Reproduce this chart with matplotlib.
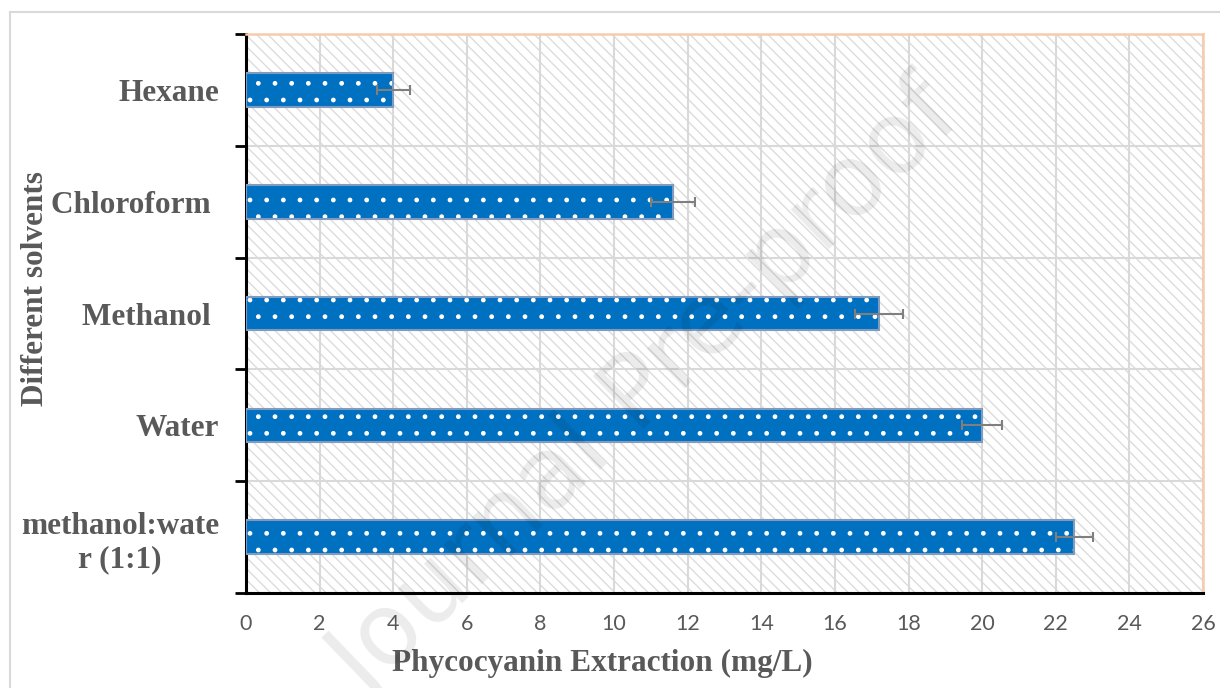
import numpy as np
import matplotlib.pyplot as plt
from matplotlib.patches import Rectangle
from matplotlib.lines import Line2D

solvents = ['Hexane', 'Chloroform ', 'Methanol ', 'Water', 'methanol:wate\nr (1:1)']
extraction = [4.0, 11.6, 17.2, 20.0, 22.5]
errors = [0.45, 0.6, 0.65, 0.55, 0.5]
xticks = np.arange(0, 27, 2)

serif = 'Liberation Serif'
gray = '#595959'

fig = plt.figure(figsize=(12.2, 6.88), dpi=100)
ax = fig.add_axes([0.2016, 0.138, 0.7845, 0.8125])

# figure border (top and left edges visible)
fig.add_artist(Line2D([0.0082, 1.0], [0.9826, 0.9826], color='#d9d9d9', lw=1.5, transform=fig.transFigure))
fig.add_artist(Line2D([0.0082, 0.0082], [0.0, 0.9826], color='#d9d9d9', lw=1.5, transform=fig.transFigure))

# hatched plot area
bg = Rectangle((0, 0), 1, 1, transform=ax.transAxes, facecolor='white',
               edgecolor='#dcdcdc', hatch='\\\\\\', lw=0, zorder=0)
ax.add_patch(bg)
ax.patch.set_visible(False)

y = np.arange(len(solvents))
ax.barh(y, extraction, height=0.3, color='#0070C0', edgecolor='white', hatch='.', lw=0, zorder=3)
ax.barh(y, extraction, height=0.3, color='none', edgecolor='#7f9cc0', lw=1.5, zorder=4)
ax.errorbar(extraction, y, xerr=errors, fmt='none', ecolor='#7f7f7f', elinewidth=1.5,
            capsize=3.6, capthick=1.5, zorder=5)

ax.set_xlim(0, 26)
ax.set_ylim(len(solvents) - 0.5, -0.5)
ax.set_xticks(xticks)
ax.set_xticklabels([str(v) for v in xticks], fontfamily='Lato', fontsize=15.5, color=gray)
ax.tick_params(axis='x', length=0, pad=15)

ax.set_yticks(np.arange(-0.5, len(solvents), 1))
ax.set_yticklabels([])
ax.set_yticks(y, minor=True)
ax.set_yticklabels(solvents, minor=True, fontfamily=serif, fontweight='bold', fontsize=22.5,
                   color=gray, multialignment='center')
ax.tick_params(axis='y', which='major', length=8, width=2, color='black')
ax.tick_params(axis='y', which='minor', length=0, pad=19.5)

ax.grid(True, which='major', color='#d9d9d9', lw=1.5, zorder=1)
ax.set_axisbelow(True)

for s in ['left', 'bottom']:
    ax.spines[s].set_color('black')
    ax.spines[s].set_linewidth(2.2)
for s in ['top', 'right']:
    ax.spines[s].set_color('#f8cbad')
    ax.spines[s].set_linewidth(1.8)

ax.set_xlabel('Phycocyanin Extraction (mg/L)', fontfamily=serif, fontweight='bold',
              fontsize=22.5, color=gray, labelpad=12)
ax.xaxis.set_label_coords(0.372, -0.1, transform=ax.transAxes)
fig.text(0.029, 0.58, 'Different solvents', rotation=90, fontfamily=serif, fontweight='bold',
         fontsize=22.5, color=gray, ha='center', va='center')

# watermark
fig.text(0.53, 0.43, 'Journal Pre-proof', rotation=44, fontfamily='DejaVu Sans', fontsize=72,
         color='black', alpha=0.08, ha='center', va='center', zorder=10)

fig.savefig('out.png', dpi=100)
